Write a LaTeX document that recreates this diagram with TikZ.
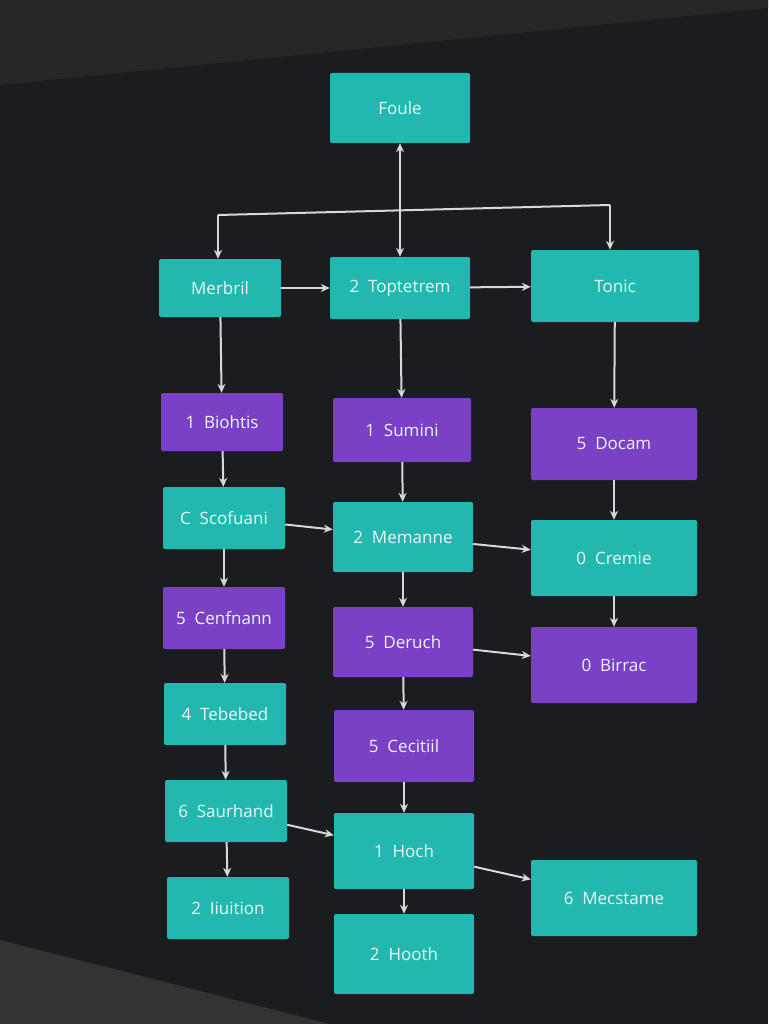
\documentclass[tikz,border=0pt]{standalone}
\usepackage{fontspec}
\setmainfont{Open Sans}
\usetikzlibrary{arrows.meta}
\definecolor{bg}{HTML}{1B1C20}
\definecolor{tealc}{HTML}{22B8AF}
\definecolor{purp}{HTML}{7A40C6}
\definecolor{txt}{HTML}{EAF6F5}
\definecolor{ln}{HTML}{D8D8D8}
\tikzset{
 box/.style={rounded corners=2pt,minimum height=60pt,text=txt,font=\fontsize{17}{20}\selectfont,inner sep=2pt},
 tb/.style={box,fill=tealc},
 pb/.style={box,fill=purp},
 conn/.style={draw=ln,line width=2pt,-{Stealth[length=9pt,width=8pt]}}
}
\begin{document}
\begin{tikzpicture}[x=1pt,y=-1pt]
\useasboundingbox (0,0) rectangle (768,1024);
\fill[bg] (0,0) rectangle (768,1024);
\fill[black!70!gray] (0,0) -- (768,0) -- (768,8) -- (0,85) -- cycle;
\fill[black!80] (0,940) -- (330,1024) -- (0,1024) -- cycle;
\node[tb,minimum width=140pt,minimum height=70pt] (fo) at (400,108) {Foule};
\node[tb,minimum width=122pt,minimum height=58pt] (me) at (220,288) {Merbril};
\node[tb,minimum width=140pt,minimum height=62pt] (tp) at (400,288) {2\ \ Toptetrem};
\node[tb,minimum width=168pt,minimum height=72pt] (to) at (615,286) {Tonic};
\node[pb,minimum width=122pt,minimum height=58pt] (bi) at (222,422) {1\ \ Biohtis};
\node[pb,minimum width=138pt,minimum height=64pt] (su) at (402,430) {1\ \ Sumini};
\node[pb,minimum width=166pt,minimum height=72pt] (do) at (614,444) {5\ \ Docam};
\node[tb,minimum width=122pt,minimum height=62pt] (sc) at (224,518) {C\ \ Scofuani};
\node[tb,minimum width=140pt,minimum height=70pt] (mm) at (403,537) {2\ \ Memanne};
\node[tb,minimum width=166pt,minimum height=76pt] (cr) at (614,558) {0\ \ Cremie};
\node[pb,minimum width=122pt,minimum height=62pt] (ce) at (224,618) {5\ \ Cenfnann};
\node[pb,minimum width=140pt,minimum height=70pt] (de) at (403,642) {5\ \ Deruch};
\node[pb,minimum width=166pt,minimum height=76pt] (br) at (614,665) {0\ \ Birrac};
\node[tb,minimum width=122pt,minimum height=62pt] (te) at (225,714) {4\ \ Tebebed};
\node[pb,minimum width=140pt,minimum height=72pt] (cc) at (404,746) {5\ \ Cecitiil};
\node[tb,minimum width=122pt,minimum height=62pt] (sa) at (226,811) {6\ \ Saurhand};
\node[tb,minimum width=140pt,minimum height=76pt] (ho) at (404,851) {1\ \ Hoch};
\node[tb,minimum width=166pt,minimum height=76pt] (mc) at (614,898) {6\ \ Mecstame};
\node[tb,minimum width=122pt,minimum height=62pt] (ii) at (228,908) {2\ \ Iiuition};
\node[tb,minimum width=140pt,minimum height=80pt] (hh) at (404,954) {2\ \ Hooth};
\coordinate (cl) at (218,215);
\coordinate (cr2) at (610,205);
\draw[conn,{Stealth[length=9pt,width=8pt]}-{Stealth[length=9pt,width=8pt]}] (fo) -- (tp);
\draw[draw=ln,line width=2pt] (cl) -- (cr2);
\draw[conn] (cl) -- (me.north -| cl);
\draw[conn] (cr2) -- (to.north -| cr2);
\draw[conn] (me) -- (tp);
\draw[conn] (tp) -- (to);
\draw[conn] (me) -- (bi);
\draw[conn] (bi) -- (sc);
\draw[conn] (sc) -- (ce);
\draw[conn] (ce) -- (te);
\draw[conn] (te) -- (sa);
\draw[conn] (sa) -- (ii);
\draw[conn] (tp) -- (su);
\draw[conn] (su) -- (mm);
\draw[conn] (mm) -- (de);
\draw[conn] (de) -- (cc);
\draw[conn] (cc) -- (ho);
\draw[conn] (ho) -- (hh);
\draw[conn] (to) -- (do);
\draw[conn] (do) -- (cr);
\draw[conn] (cr) -- (br);
\draw[conn] (sc) -- (mm);
\draw[conn] (mm) -- (cr);
\draw[conn] (de) -- (br);
\draw[conn] (sa) -- (ho);
\draw[conn] (ho) -- (mc);
\end{tikzpicture}
\end{document}
